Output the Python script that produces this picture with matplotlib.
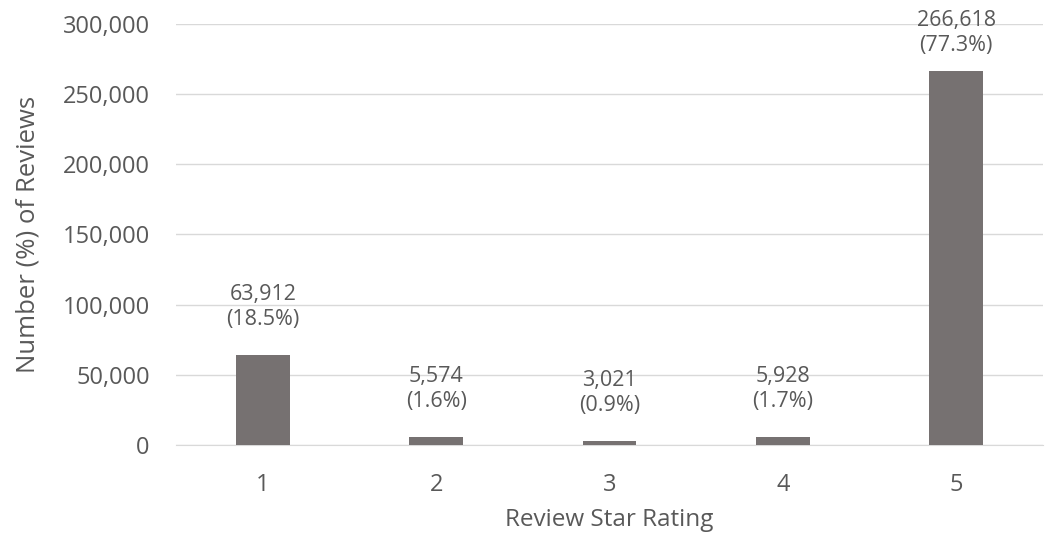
import matplotlib
matplotlib.use("Agg")
import matplotlib.pyplot as plt
from matplotlib.ticker import FuncFormatter

ratings = ["1", "2", "3", "4", "5"]
counts = [63912, 5574, 3021, 5928, 266618]
percents = [18.5, 1.6, 0.9, 1.7, 77.3]
yticks = [0, 50000, 100000, 150000, 200000, 250000, 300000]

plt.rcParams["font.family"] = ["Open Sans", "DejaVu Sans"]
text_color = "#595959"
bar_color = "#767171"

fig = plt.figure(figsize=(10.48, 5.36), dpi=100)
ax = fig.add_axes([0.168, 0.170, 0.827, 0.785])

x = range(len(ratings))
ax.bar(x, counts, width=0.31, color=bar_color, zorder=3)

labels = []
for xi, c, p in zip(x, counts, percents):
    t = ax.annotate(f"{c:,}\n({p}%)", xy=(xi, c), xytext=(0, 18), textcoords="offset points",
                    ha="center", va="bottom", fontsize=15.5, color=text_color, linespacing=1.25,
                    annotation_clip=False)
    labels.append(t)

ax.set_xlim(-0.5, len(ratings) - 0.5)
ax.set_ylim(0, 300000)
ax.set_yticks(yticks)
ax.yaxis.set_major_formatter(FuncFormatter(lambda v, _: f"{int(v):,}"))
ax.set_xticks(list(x))
ax.set_xticklabels(ratings)

ax.grid(axis="y", color="#D9D9D9", linewidth=1, zorder=0)
for side in ["top", "right", "left"]:
    ax.spines[side].set_visible(False)
ax.spines["bottom"].set_color("#D9D9D9")
ax.tick_params(axis="both", length=0, labelsize=17, colors=text_color)
ax.tick_params(axis="y", pad=19)
ax.tick_params(axis="x", pad=20)

ax.set_xlabel("Review Star Rating", fontsize=17.5, color=text_color, labelpad=8)
ax.set_ylabel("Number (%) of Reviews", fontsize=18.5, color=text_color, labelpad=16)

# Keep data labels inside the figure: push down any label that would run off the top
fig.canvas.draw()
renderer = fig.canvas.get_renderer()
fig_h = fig.bbox.height
for t in labels:
    bb = t.get_window_extent(renderer)
    overflow = bb.y1 - (fig_h - 10)
    if overflow > 0:
        dx, dy = t.xyann
        t.xyann = (dx, dy - overflow * 72 / fig.dpi)

fig.savefig("out.png", dpi=100)
